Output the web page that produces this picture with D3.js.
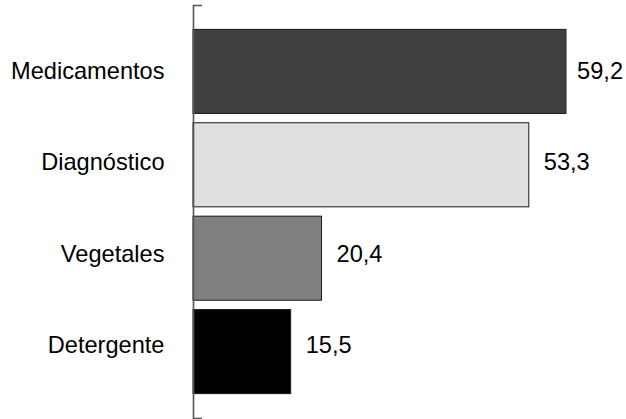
<!DOCTYPE html>
<html><head><meta charset="utf-8">
<script src="https://cdn.jsdelivr.net/npm/d3@7"></script>
<style>body{margin:0;background:#fff}svg{display:block}</style>
</head><body>
<svg id="c" width="626" height="419"></svg>
<script>
const categories = ["Medicamentos", "Diagnóstico", "Vegetales", "Detergente"];
const values = [59.2, 53.3, 20.4, 15.5];
const valueLabels = ["59,2", "53,3", "20,4", "15,5"];
const colors = ["#404040", "#e0e0e0", "#808080", "#000000"];

const W = 626;
const svg = d3.select("#c");
const font = "'Liberation Sans', Arial, Helvetica, sans-serif";
const fs = 23.6;
const x = d3.scaleLinear().domain([0, 70]).range([193, 193 + 6.3 * 70]);
const y = d3.scaleBand().domain(categories).range([5, 418]).paddingInner(0.1).paddingOuter(0.261);
// label rows sit on a slightly tighter grid than the bars
const yl = d3.scalePoint().domain(categories).range([71, 344.5]);

svg.selectAll("rect.bar").data(categories).join("rect")
  .attr("class", "bar")
  .attr("x", x(0))
  .attr("y", d => y(d))
  .attr("width", (d, i) => x(values[i]) - x(0))
  .attr("height", y.bandwidth())
  .attr("fill", (d, i) => colors[i])
  .attr("stroke", "#1a1a1a")
  .attr("stroke-width", 1);

const ax = svg.append("g").attr("transform", `translate(${x(0)},0)`)
  .call(d3.axisLeft(y).tickSizeInner(0).tickSizeOuter(-9).tickFormat(""));
ax.select(".domain").attr("stroke", "#555").attr("stroke-width", 1.6);
ax.selectAll(".tick").remove();

svg.selectAll("text.cat").data(categories).join("text")
  .attr("class", "cat")
  .attr("x", x(0) - 28.5)
  .attr("y", d => yl(d))
  .attr("dy", "0.35em")
  .attr("text-anchor", "end")
  .attr("font-family", font).attr("font-size", fs).attr("fill", "#000")
  .text(d => d);

svg.selectAll("text.val").data(categories).join("text")
  .attr("class", "val")
  .attr("y", d => yl(d))
  .attr("dy", "0.35em")
  .attr("font-family", font).attr("font-size", fs).attr("fill", "#000")
  .text((d, i) => valueLabels[i])
  .attr("x", function(d, i) {
    const w = this.getComputedTextLength();
    return Math.min(x(values[i]) + 15, W - 3 - w);
  });
</script>
</body></html>
